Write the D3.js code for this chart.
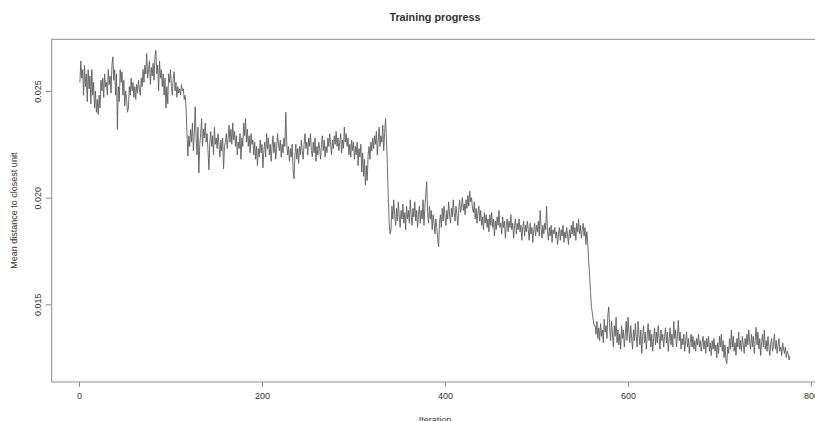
<!DOCTYPE html>
<html>
<head>
<meta charset="utf-8">
<script src="https://cdn.jsdelivr.net/npm/d3@7"></script>
<style>
  html, body { margin: 0; padding: 0; background: #fff; }
  svg { display: block; }
  text { font-family: Arial, "Liberation Sans", Helvetica, sans-serif; fill: #333; }
</style>
</head>
<body>
<svg id="chart" width="815" height="421"></svg>
<script>
// ---- data (mean distance, in units of 1e-5; iteration = position + 1) ----
const distanceX1e5 = [
// iterations 1-117
2540,2640,2560,2600,2480,2620,2520,2580,2450,2600,
2510,2570,2440,2600,2480,2540,2420,2500,2400,2460,
2390,2480,2420,2550,2500,2560,2470,2580,2520,2540,
2480,2600,2530,2570,2490,2620,2660,2550,2600,2480,
2580,2320,2520,2450,2600,2540,2590,2480,2550,2430,
2500,2460,2400,2420,2520,2480,2560,2500,2540,2470,
2520,2460,2530,2490,2550,2510,2480,2560,2520,2600,
2540,2620,2580,2676,2560,2600,2640,2530,2610,2570,
2630,2550,2660,2690,2580,2620,2500,2640,2560,2600,
2520,2580,2480,2560,2420,2520,2440,2580,2540,2600,
2520,2480,2560,2590,2500,2540,2470,2520,2490,2510,
2480,2530,2500,2510,2460,2480,2420,
// 118-122
2300,2195,2290,2240,2320,
// 123-336
2260,2350,2220,2300,2426,2280,2200,2330,
2116,2250,2300,2370,2240,2320,2280,2350,2260,2300,
2220,2130,2260,2310,2240,2290,2200,2330,2250,2280,
2230,2300,2250,2190,2270,2220,2280,2135,2240,2260,
2300,2230,2280,2340,2260,2320,2250,2350,2270,2310,
2240,2290,2200,2260,2230,2300,2180,2280,2240,2350,
2290,2370,2260,2320,2240,2290,2210,2300,2250,2270,
2200,2260,2180,2240,2150,2230,2190,2270,2210,2250,
2140,2220,2260,2190,2300,2230,2280,2200,2250,2170,
2240,2290,2210,2260,2180,2230,2300,2250,2220,2270,
2190,2250,2210,2280,2240,2400,2260,2200,2240,2170,
2230,2190,2250,2130,2088,2200,2250,2180,2230,2160,
2240,2200,2270,2220,2180,2250,2300,2230,2260,2200,
2280,2240,2300,2220,2190,2260,2210,2280,2170,2240,
2200,2260,2230,2180,2250,2290,2220,2270,2190,2240,
2210,2280,2240,2300,2250,2200,2270,2230,2290,2250,
2310,2240,2280,2220,2260,2300,2210,2270,2230,2330,
2260,2300,2240,2280,2200,2250,2190,2270,2220,2260,
2180,2240,2200,2260,2150,2230,2190,2250,2120,2210,
2100,2180,2060,2150,2080,2200,2240,2180,2260,2220,
2280,2230,2290,2250,2310,2200,2270,2330,2240,2290,
2260,2340,2220,2300,2370,2280,
// 337-340
2150,2000,1880,1830,
// 341-556
1850,1960,1900,1990,1920,1870,1950,1890,1980,1910,
1860,1940,1900,1970,1880,1930,1850,1960,1900,1940,
1880,1990,1920,1870,1950,1910,1980,1890,1940,1860,
1920,1960,1880,1940,1900,1990,1870,1950,2020,2075,
1930,1880,1960,1900,1940,1850,1920,1880,1830,1900,
1860,1810,1770,1880,1920,1860,1950,1890,1960,1910,
1870,1940,1900,1980,1920,1880,1950,1910,1990,1930,
1890,1960,1920,1870,1940,1990,1930,1960,2000,1940,
1970,1920,1990,1950,2010,1960,2030,1980,2000,1950,
1930,1980,1900,1950,1880,1930,1960,1890,1940,1870,
1910,1850,1930,1880,1920,1860,1900,1840,1920,1870,
1930,1860,1900,1820,1890,1850,1910,1870,1940,1860,
1880,1830,1910,1860,1890,1810,1870,1900,1840,1890,
1860,1920,1850,1880,1810,1870,1900,1830,1880,1850,
1900,1840,1870,1800,1860,1890,1820,1870,1840,1890,
1850,1800,1880,1830,1860,1790,1850,1880,1820,1870,
1840,1890,1820,1940,1860,1810,1870,1830,1880,1850,
1960,1840,1800,1860,1820,1870,1790,1850,1830,1860,
1810,1840,1780,1830,1860,1800,1850,1820,1870,1790,
1840,1810,1860,1820,1780,1850,1810,1870,1830,1890,
1820,1860,1800,1880,1840,1900,1830,1870,1810,1850,
1880,1820,1860,1780,1840,1790,
// 557-563
1700,1640,1560,1490,1460,1427,1400,
// 564-777
1400,1360,1420,1340,1390,1330,1410,
1350,1380,1320,1430,1370,1400,1340,1450,1488,1390,
1330,1420,1360,1300,1400,1350,1440,1320,1380,1310,
1360,1290,1400,1340,1380,1300,1360,1420,1330,1440,
1370,1320,1400,1340,1290,1380,1330,1410,1350,1300,
1420,1360,1310,1380,1270,1350,1400,1320,1370,1290,
1350,1410,1330,1380,1300,1360,1280,1340,1390,1310,
1370,1320,1400,1340,1290,1380,1330,1360,1300,1350,
1390,1320,1370,1280,1340,1390,1310,1360,1300,1420,
1340,1380,1300,1350,1425,1330,1370,1290,1340,1310,
1360,1280,1330,1370,1300,1340,1270,1320,1360,1300,
1350,1290,1330,1280,1340,1310,1360,1300,1330,1280,
1320,1350,1290,1330,1270,1340,1300,1350,1280,1320,
1260,1330,1290,1340,1280,1310,1250,1320,1270,1350,
1300,1360,1280,1330,1250,1310,1240,1222,1300,1270,
1340,1290,1380,1300,1350,1280,1320,1260,1340,1300,
1370,1290,1330,1280,1350,1310,1270,1340,1300,1360,
1310,1380,1320,1290,1360,1300,1350,1270,1330,1392,
1310,1370,1290,1340,1260,1320,1360,1300,1380,1290,
1330,1280,1350,1300,1260,1320,1340,1280,1310,1360,
1290,1330,1270,1310,1340,1280,1300,1260,1320,1290,
1270,1300,1250,1280,1270,1240,1257
];
const iterationTicks = [0, 200, 400, 600, 800];
const distanceTicks = [0.015, 0.020, 0.025];
const distanceTickLabels = ["0.015", "0.020", "0.025"];
const chartTitle = "Training progress";
const xLabel = "Iteration";
const yLabel = "Mean distance to closest unit";

const series = distanceX1e5.map((v, i) => ({ iter: i + 1, value: v / 1e5 }));

// ---- layout ----
const plot = { left: 51.7, right: 822, top: 39.3, bottom: 382 };
const svg = d3.select("#chart");

// x range chosen so that 0 -> 79 px and 800 -> 811 px
const x = d3.scaleLinear().domain([0, 800]).range([79, 811]);
const y = d3.scaleLinear().domain([0.01136, 0.02742]).range([plot.bottom, plot.top]);

// line
const line = d3.line().x(d => x(d.iter)).y(d => y(d.value));
svg.append("path")
  .datum(series)
  .attr("d", line)
  .attr("fill", "none")
  .attr("stroke", "#5e5e5e")
  .attr("stroke-width", 0.9)
  .attr("stroke-linejoin", "round");

// box
svg.append("rect")
  .attr("x", plot.left).attr("y", plot.top)
  .attr("width", plot.right - plot.left).attr("height", plot.bottom - plot.top)
  .attr("fill", "none").attr("stroke", "#8c8c8c").attr("stroke-width", 1);

// x axis
const xAxis = svg.append("g")
  .attr("transform", `translate(0,${plot.bottom})`)
  .call(d3.axisBottom(x).tickValues(iterationTicks).tickSize(5).tickSizeOuter(0).tickPadding(6)
        .tickFormat(d3.format("d")));
xAxis.select(".domain").remove();
xAxis.selectAll("line").attr("stroke", "#8c8c8c");
xAxis.selectAll("text").attr("font-size", 9).attr("fill", "#333")
  .attr("font-family", "Arial, 'Liberation Sans', sans-serif");

// y axis
const yAxis = svg.append("g")
  .attr("transform", `translate(${plot.left},0)`)
  .call(d3.axisLeft(y).tickValues(distanceTicks).tickSize(6).tickSizeOuter(0)
        .tickFormat((d, i) => distanceTickLabels[i]));
yAxis.select(".domain").remove();
yAxis.selectAll("line").attr("stroke", "#8c8c8c");
yAxis.selectAll("text")
  .attr("font-size", 9).attr("fill", "#333")
  .attr("font-family", "Arial, 'Liberation Sans', sans-serif")
  .attr("x", null)
  .attr("text-anchor", "middle")
  .attr("transform", "translate(-14,0) rotate(-90)")
  .attr("dy", "0.32em");

// title
svg.append("text")
  .attr("x", 435).attr("y", 21)
  .attr("text-anchor", "middle")
  .attr("font-size", 10.8).attr("font-weight", "bold").attr("fill", "#222")
  .text(chartTitle);

// x label (cut by the bottom edge, as in the reference)
svg.append("text")
  .attr("x", 435).attr("y", 423)
  .attr("text-anchor", "middle")
  .attr("font-size", 9).attr("fill", "#333")
  .text(xLabel);

// y label
svg.append("text")
  .attr("transform", `translate(17,${(plot.top + plot.bottom) / 2}) rotate(-90)`)
  .attr("text-anchor", "middle")
  .attr("font-size", 9).attr("fill", "#333")
  .text(yLabel);
</script>
</body>
</html>
